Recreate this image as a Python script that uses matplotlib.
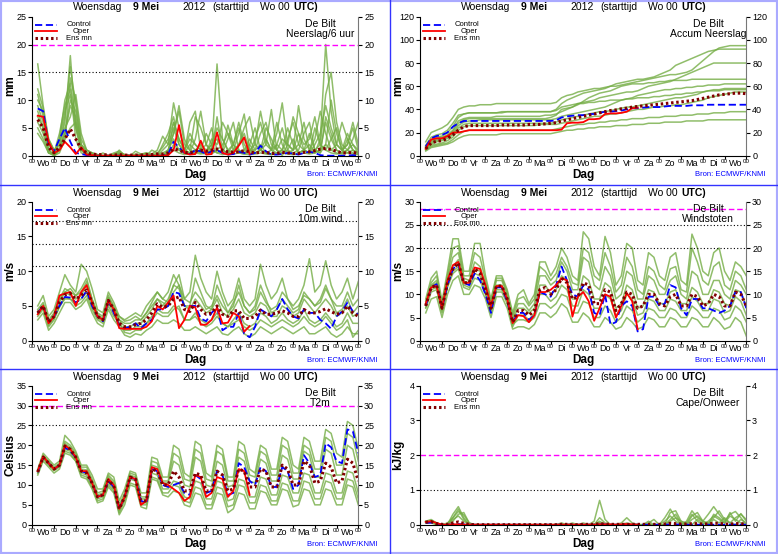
import matplotlib
matplotlib.use("Agg")
import matplotlib.pyplot as plt
from matplotlib.lines import Line2D
from matplotlib.patches import Rectangle
import numpy as np

plt.rcParams['font.family'] = ['Liberation Sans', 'DejaVu Sans']

W, H = 778, 554
hours = np.arange(6, 361, 6)          # 6-hourly steps, +6h .. +360h
day_names = ['Wo', 'Do', 'Vr', 'Za', 'Zo', 'Ma', 'Di', 'Wo', 'Do', 'Vr', 'Za', 'Zo', 'Ma', 'Di', 'Wo']

# ---------------- Neerslag / 6 uur (mm) ----------------
rr_control = [8.5, 8.0, 2.0, 0.8, 3.0, 5.0, 2.5, 0.5, 0.3, 0.1,
              0, 0, 0, 0, 0, 0, 0, 0, 0, 0,
              0, 0, 0, 0, 0.3, 2.5, 1.5, 0.5, 0.3, 1.0,
              0.8, 0.3, 0.8, 1.0, 0.5, 0.2, 0.3, 0.7, 0.5, 0.2,
              0.5, 1.8, 0.8, 0.2, 0.2, 0.3, 0.5, 0.4, 0.2, 0.5,
              0.7, 0.5, 0.1, 0, 0, 0, 0, 0, 0.1, 0]
rr_oper = [7.2, 7.0, 2.5, 0.5, 1.0, 2.5, 1.5, 0.3, 1.5, 0.2,
           0.1, 0, 0, 0, 0, 0, 0, 0, 0, 0,
           0, 0, 0, 0, 0.1, 1.0, 5.5, 0.5, 0.2, 0.3,
           2.7, 0.2, 0.3, 4.2, 0.5, 0.2, 0.5, 1.8, 3.3, 0.3]
rr_mean = [6.5, 5.0, 1.5, 0.5, 1.5, 3.0, 4.8, 3.0, 1.2, 0.5,
           0.3, 0.2, 0.2, 0.1, 0.1, 0.2, 0.1, 0.1, 0.1, 0.1,
           0.2, 0.2, 0.3, 0.3, 0.5, 1.2, 1.0, 0.6, 0.5, 0.8,
           1.0, 0.8, 1.0, 1.2, 1.0, 0.7, 0.6, 0.7, 0.9, 0.7,
           0.5, 0.6, 0.6, 0.4, 0.4, 0.6, 0.5, 0.4, 0.4, 0.6,
           0.7, 0.9, 1.2, 1.3, 1.1, 0.8, 0.5, 0.5, 0.6, 0.4]
rr_members = [
    [16.5, 9, 3, 1, 2, 6, 18, 5, 1, 0.3, 0, 0, 0, 0, 0, 1, 0, 0, 0, 0,
     0, 0, 0, 1, 2, 9.5, 5, 1, 0.5, 1, 2, 1, 0.5, 7, 1, 0.5, 1, 4, 7.5, 1,
     0.5, 1, 2, 8.3, 1, 0.5, 1, 3, 0.5, 1, 2, 0.5, 3, 20, 8, 2, 1, 2, 5, 1],
    [11, 7, 2, 0.5, 4, 9, 12, 3, 0.5, 0.2, 0, 0, 0.5, 0, 0, 0.3, 0, 0, 0.3, 0.1,
     0, 1, 0.5, 0, 1, 4, 9, 3, 1, 7, 5, 2, 1, 16.5, 3, 1, 2, 6, 2, 0.5,
     3, 6, 2, 1, 4, 9.5, 2, 1, 2, 6, 1, 3, 8, 4, 1, 2, 6, 3, 1, 0.5],
    [9, 6, 1, 0, 1, 4, 10, 8, 2, 0.5, 0.2, 0, 0, 0, 0.2, 0.5, 0, 0, 0, 0,
     0, 0, 0, 2, 4, 7, 2, 0.5, 6, 8, 1, 0.5, 3, 2, 6, 4, 1, 2, 5, 7,
     2, 1, 5, 3, 1, 0, 2, 7, 4, 1, 0.5, 5, 2, 11, 15, 6, 2, 1, 3, 6],
    [8, 5, 1, 0, 0.5, 3, 14, 10, 3, 1, 0.5, 0.2, 0, 0, 0, 0.3, 0, 0.1, 0, 0.3,
     0.3, 0.2, 0.3, 0.5, 1, 3, 1, 0.5, 2, 1, 0.5, 1, 2, 3, 1, 0.5, 2, 1, 0.5, 1,
     1, 2, 0.5, 1, 6, 2, 0.5, 1, 9, 3, 1, 0.5, 1, 6, 3, 1, 0.5, 1, 2, 0.5],
    [6, 4, 0.5, 0, 1, 5, 7, 11, 4, 1, 0.5, 0, 0, 0, 0, 0.5, 0.2, 0, 0, 0,
     0, 0, 0, 0, 0.5, 6, 3, 1, 0.5, 3, 8, 2, 0.5, 1, 0.5, 3, 6, 1, 0.5, 2,
     5, 1, 0.5, 0.3, 2, 5, 1, 0.5, 1, 4, 6, 1, 0.5, 2, 10, 4, 1, 0.5, 1, 0.5],
    [5, 3, 0.5, 0.2, 1, 3, 5, 6, 2, 0.5, 0.2, 0, 0, 0, 0, 0.2, 0, 0, 0, 0.2,
     0.5, 0, 0, 0, 0.3, 1, 0.5, 0.2, 0.5, 1, 0.5, 0.3, 1, 0.5, 0.2, 0.5, 1, 0.5, 0.3, 0.5,
     0.5, 1, 0.5, 0.2, 0.5, 1, 0.5, 0.3, 0.5, 1, 0.5, 1, 2, 1, 0.5, 0.3, 0.5, 1, 0.5, 0.3],
    [10, 8, 3, 1, 2, 7, 16, 9, 2, 1, 0.5, 0.2, 0, 0, 0.3, 0.5, 0, 0, 0.8, 0.3,
     0.5, 0.3, 1, 3.5, 2, 5, 2, 1, 3, 2, 1, 2, 5, 1, 2, 4, 2, 5, 1, 3,
     1, 4, 6, 2, 1, 3, 2, 1, 4, 2, 3, 7, 2, 1, 3, 5, 1, 2, 6, 2],
    [7, 5, 1, 0.3, 3, 8, 11, 5, 1, 0.2, 0, 0, 0, 0, 0, 0, 0, 0, 0, 0,
     0, 0, 0, 0, 0, 2, 1, 0.5, 0.3, 0.5, 0.3, 0.5, 0.3, 1, 0.5, 0.2, 0.3, 0.5, 0.3, 0.2,
     0.3, 0.5, 0.3, 0.2, 0.3, 0.5, 0.3, 0.2, 0.3, 0.5, 0.3, 0.5, 1, 2, 1, 0.5, 0.3, 0.5, 0.3, 0.2],
    [4, 2.5, 0.5, 0.2, 1.5, 4, 9, 7, 1.5, 0.3, 0, 0, 0, 0, 0, 0, 0, 0, 0, 0,
     0, 0, 0, 0, 1, 4, 8, 2, 1, 0.5, 1, 4, 2, 0.5, 1, 5.5, 2, 0.5, 1, 2,
     0.5, 1, 3, 1, 0.5, 1, 5, 2, 0.5, 1, 4, 1, 0.5, 7, 4, 1, 0.5, 3, 1, 0.5],
    [12, 8.5, 2.5, 0.5, 3, 10, 13, 6, 1, 0.5, 0.2, 0, 0, 0, 0.5, 0.8, 0.2, 0, 0, 0,
     0, 0, 0.5, 1.5, 3, 6, 3, 1, 4, 2, 1, 0.5, 2, 5, 3, 1, 0.5, 2, 4, 1,
     2, 8, 3, 1, 2, 1, 3, 6, 2, 1, 0.5, 2, 4, 9, 5, 2, 1, 4, 2, 1],
]

# ---------------- Accum Neerslag (mm) ----------------
acc_control = [8, 15, 17, 18, 20, 25, 28, 30, 30, 30, 30, 30, 30, 30, 30, 30, 30, 30, 30, 30,
               30, 30, 30, 30, 30.5, 33, 34, 34.5, 35, 35, 36, 36, 37, 38, 38, 38.5, 39, 40, 41, 41,
               41.5, 42, 42, 42, 42.5, 43, 43, 43, 43, 43.5, 43.5, 43.5, 44, 44, 44, 44, 44, 44, 44, 44]
acc_oper = [6, 14, 15, 15, 17, 20, 20, 21, 22, 22, 22, 22, 22, 22, 22, 22, 22, 22, 22, 22,
            22, 22, 22, 22, 22, 22.5, 28, 28.5, 28.5, 29, 31.5, 31.5, 32, 36, 36.5, 36.5, 37, 38, 41, 41.5]
acc_mean = [6, 11, 12.5, 13, 15, 18, 22, 25, 26, 26, 26, 26, 26, 26, 26.5, 26.5, 26.5, 26.5, 26.5, 27,
            27, 27, 27.5, 28, 28.5, 30, 31, 32, 33, 34, 35, 36, 37, 38, 39, 39.5, 40.5, 41, 42, 42.5,
            43, 43.5, 44, 44.5, 45, 45.5, 46, 46.5, 47, 47.5, 48.5, 49.5, 50.5, 51.5, 52.5, 53, 53.5, 54, 54, 53.5]
acc_members = [
    [12, 20, 22, 24, 27, 33, 40, 42, 43, 43, 44, 44, 44, 45, 45, 45, 45, 45, 45, 45,
     45, 45, 45, 45, 46, 50, 52, 53, 55, 56, 57, 58, 58, 59, 60, 60, 61, 62, 63, 64,
     65, 66, 67, 68, 69, 70, 70, 71, 72, 74, 78, 82, 86, 90, 93, 94, 95, 95, 95, 95],
    [9, 16, 18, 19, 22, 28, 35, 36, 37, 37, 37, 37, 37, 37, 37, 38, 38, 38, 38, 38,
     38, 38, 38, 38, 40, 45, 48, 50, 52, 54, 55, 56, 57, 58, 60, 62, 63, 64, 65, 66,
     66, 67, 68, 70, 72, 74, 78, 80, 82, 84, 86, 88, 90, 91, 92, 92, 92, 92, 92, 92],
    [8, 13, 15, 16, 18, 22, 30, 32, 33, 33, 33, 33, 33, 34, 34, 34, 34, 34, 34, 34,
     34, 34, 35, 35, 36, 38, 40, 42, 44, 47, 50, 52, 54, 55, 56, 58, 60, 61, 62, 62,
     62, 63, 63, 64, 64, 65, 65, 65, 65, 66, 66, 66, 66, 66, 66, 66, 66, 66, 66, 66],
    [6, 11, 13, 14, 16, 19, 26, 29, 30, 30, 31, 31, 31, 31, 31, 31, 31, 31, 31, 31,
     31, 31, 31, 31, 32, 34, 35, 36, 37, 38, 39, 40, 41, 42, 44, 46, 48, 49, 50, 52,
     53, 54, 55, 56, 57, 57, 58, 58, 59, 59, 60, 60, 61, 61, 61, 62, 62, 62, 62, 62],
    [5, 9, 10, 11, 13, 16, 22, 25, 26, 26, 26, 26, 26, 26, 26, 26, 26, 26, 26, 26,
     26, 27, 27, 27, 27, 28, 29, 30, 31, 32, 33, 34, 34, 35, 36, 36, 37, 38, 39, 40,
     40, 41, 42, 42, 43, 43, 44, 44, 45, 46, 47, 48, 50, 51, 52, 53, 54, 55, 55, 55],
    [5, 8, 9, 10, 11, 14, 18, 21, 22, 22, 22, 22, 22, 22, 22, 22, 22, 22, 22, 22,
     22, 22, 22, 22, 23, 24, 25, 26, 27, 27, 28, 28, 29, 29, 30, 30, 31, 31, 32, 32,
     32, 33, 33, 33, 34, 34, 34, 35, 35, 35, 36, 36, 36, 37, 37, 37, 38, 38, 38, 38],
    [4, 7, 8, 9, 10, 12, 15, 17, 18, 18, 18, 18, 18, 18, 19, 19, 19, 19, 19, 19,
     19, 19, 19, 19, 20, 21, 22, 22, 23, 23, 24, 24, 25, 25, 25, 26, 26, 26, 27, 27,
     27, 28, 28, 28, 29, 29, 29, 29, 30, 30, 30, 30, 31, 31, 31, 31, 31, 31, 31, 31],
    [7, 12, 14, 15, 17, 21, 28, 31, 32, 32, 32, 32, 32, 32, 32, 32, 32, 32, 32, 32,
     32, 32, 32, 33, 35, 40, 41, 42, 45, 46, 47, 48, 50, 51, 52, 53, 54, 55, 55, 56,
     58, 60, 61, 62, 63, 64, 66, 68, 70, 72, 74, 76, 78, 80, 80, 80, 80, 80, 80, 80],
    [6, 10, 12, 13, 15, 18, 24, 27, 28, 28, 28, 28, 28, 28, 28, 28, 28, 28, 28, 28,
     28, 28, 28, 28, 29, 31, 32, 33, 34, 35, 36, 37, 38, 38, 39, 40, 41, 42, 42, 43,
     44, 45, 46, 47, 48, 49, 50, 50, 51, 52, 53, 55, 56, 57, 57, 58, 58, 58, 58, 58],
    [8, 14, 16, 17, 20, 25, 33, 36, 37, 37, 37, 37, 37, 37, 38, 38, 38, 38, 38, 38,
     38, 38, 38, 38, 39, 42, 43, 44, 45, 45, 46, 46, 47, 47, 48, 48, 48, 49, 49, 50,
     50, 50, 51, 51, 52, 52, 53, 53, 54, 54, 55, 55, 56, 56, 56, 57, 57, 57, 57, 57],
]

# ---------------- 10m wind (m/s) ----------------
ff_control = [4.0, 5.0, 2.7, 3.5, 5.0, 6.3, 6.2, 5.5, 6.0, 7.2, 5.0, 3.5, 2.8, 5.8, 4.0, 2.2, 1.8, 2.0, 2.5, 1.8,
              2.5, 3.0, 4.5, 4.5, 5.0, 7.0, 6.8, 5.0, 5.0, 5.0, 3.2, 2.8, 4.0, 4.8, 1.5, 2.0, 2.0, 4.0, 1.0, 0.5,
              2.0, 4.5, 4.0, 3.5, 4.5, 6.0, 4.5, 3.5, 3.2, 4.5, 4.0, 4.0, 3.0, 2.5, 1.7, 3.5, 4.2, 5.5, 4.2, 3.8]
ff_oper = [3.8, 5.0, 2.5, 3.5, 6.5, 6.8, 7.0, 5.0, 7.0, 8.0, 5.5, 3.5, 3.0, 5.8, 4.5, 1.8, 1.7, 1.7, 1.7, 1.7,
           2.0, 2.8, 5.0, 4.5, 5.5, 6.5, 1.8, 3.0, 5.0, 4.8, 2.3, 2.3, 3.0, 4.8, 2.5, 2.6, 4.0, 3.5, 1.3, 2.1]
ff_mean = [4.0, 5.0, 2.7, 3.5, 5.5, 6.6, 6.8, 6.0, 6.5, 7.3, 5.5, 3.5, 3.0, 5.8, 4.5, 2.5, 2.0, 2.0, 2.3, 2.5,
           3.0, 4.0, 5.3, 4.8, 5.0, 6.0, 6.3, 4.5, 4.2, 5.5, 4.5, 3.8, 4.0, 5.0, 3.8, 3.5, 4.3, 4.3, 3.2, 3.2,
           3.5, 4.4, 3.8, 3.8, 4.0, 4.3, 4.0, 3.5, 3.5, 4.5, 4.0, 4.0, 4.2, 4.6, 4.2, 3.8, 4.0, 5.0, 4.0, 3.5]
ff_members = [
    [5, 6.5, 3.5, 4.5, 7, 9.5, 8, 7, 11, 10, 7.5, 4.5, 4, 7, 5.5, 3.5, 3, 3.5, 4, 3.5,
     5, 6, 7, 6, 7, 9.5, 8, 6, 7, 12.3, 9, 7, 6, 10, 7, 5, 6, 9, 6, 5,
     6, 11, 8, 6, 7, 9, 6, 5, 6, 8, 11.8, 7, 8, 11.5, 8, 6, 7, 9, 6, 8.5],
    [3, 4, 1.5, 2.5, 4, 5.5, 5.5, 4.5, 5, 6, 4, 2.5, 2, 4.5, 3, 2, 0.8, 0.5, 1, 0.8,
     1.5, 2, 3, 2.5, 2.5, 3, 2.5, 1.5, 1.5, 2, 1.5, 1, 1.5, 2, 1, 0.8, 1.5, 2, 1, 0.5,
     1, 2, 1.5, 1, 1.5, 2, 1.5, 1, 1.5, 2, 1, 1, 1.5, 2, 1, 0.5, 1, 2, 1, 1],
    [4.5, 5.5, 3, 4, 6, 7.5, 7, 6.5, 7, 8.5, 6, 4, 3.5, 6.5, 5, 3, 2.5, 2.5, 3, 3,
     4, 5, 6, 5, 6, 8, 7.5, 5, 5, 9, 7, 5, 4.5, 8, 6, 4, 5, 8, 5, 4,
     5, 8, 6, 4, 4.5, 6, 5, 4, 4.5, 7, 6, 5, 6, 8, 6, 4, 4.5, 6, 4, 5],
    [3.5, 4.5, 2, 3, 5, 6, 6, 5, 5.5, 6.5, 4.5, 3, 2.5, 5, 3.5, 2.5, 1.5, 1.5, 2, 2,
     2.5, 3.5, 4.5, 4, 4, 5, 4.5, 3, 3, 4, 3, 2.5, 3, 4, 2.5, 2, 3, 4, 2.5, 2,
     2.5, 4, 3.5, 2.5, 3, 4, 3, 2.5, 3, 4.5, 3, 2.5, 3, 4, 3, 2, 2.5, 4, 2.5, 2.5],
    [4, 5, 2.5, 3.5, 5.5, 7, 6.5, 6, 6.5, 8, 5.5, 3.5, 3, 6, 4.5, 3, 2, 2, 2.5, 2.5,
     3.5, 4.5, 6, 5.5, 5, 7, 8, 5, 4.5, 6, 5, 4, 4.5, 6, 4, 3.5, 4.5, 6, 4, 3.5,
     4, 5.5, 5, 3.5, 3.5, 5, 4.5, 3.5, 4, 6, 5, 4, 5, 6, 5, 3.5, 4, 5, 3.5, 4],
    [3.8, 4.8, 2.2, 3.2, 4.8, 6.2, 6, 5.5, 6, 7, 5, 3.2, 2.8, 5.5, 4, 2.5, 1.2, 1, 1.5, 1.5,
     2.5, 3, 4, 3.5, 3.5, 4.5, 5, 3, 3, 3.5, 2.5, 2, 2.5, 3.5, 2.5, 2, 2.5, 3, 2, 1.5,
     2, 3, 2.5, 2, 2.5, 3, 2.5, 2, 2.5, 3.5, 2.5, 2, 2.5, 3.5, 2.5, 1.5, 2, 3, 0.5, 1.5],
    [4.2, 5.2, 2.8, 3.8, 5.8, 7, 7.5, 6.5, 7.5, 9, 6, 3.8, 3.2, 6.2, 4.8, 3.5, 2.8, 3, 3.5, 3,
     4, 5.5, 7, 6, 5.5, 8, 9.5, 6, 5.5, 7, 6, 4.5, 5, 6.5, 5, 4, 5.5, 7, 5, 4,
     4.5, 7, 5.5, 4.5, 5, 7, 6, 4.5, 5, 6.5, 6, 5, 5.5, 7.5, 6, 5, 5, 7, 5, 6],
]

# ---------------- Windstoten (m/s) ----------------
fx_control = [7.5, 11.5, 12.2, 7.0, 12.0, 15.5, 16.5, 12.5, 12.0, 14.5, 13.0, 10.0, 6.0, 11.5, 11.5, 8.5, 4.0, 6.0, 6.0, 4.5,
              5.5, 10.5, 10.0, 9.5, 12.0, 16.0, 13.0, 10.0, 9.5, 12.0, 11.0, 6.0, 5.5, 10.0, 3.5, 4.0, 7.5, 8.5, 7.5, 2.0,
              2.5, 9.5, 9.5, 7.5, 8.0, 12.0, 11.5, 7.0, 5.5, 9.0, 9.0, 7.0, 7.0, 6.5, 6.0, 6.5, 7.5, 10.5, 10.5, 7.0]
fx_oper = [8.0, 11.5, 11.8, 7.0, 13.0, 16.3, 17.0, 12.5, 12.5, 15.8, 15.5, 12.0, 7.5, 11.8, 11.8, 9.0, 3.8, 5.5, 5.3, 4.0,
           5.5, 10.5, 10.5, 11.0, 12.0, 13.5, 13.0, 5.2, 9.5, 10.5, 8.5, 4.3, 7.0, 10.0, 9.5, 5.0, 7.5, 10.3, 8.5, 2.5]
fx_mean = [7.5, 11.5, 12.0, 7.0, 12.5, 15.5, 16.8, 12.5, 12.5, 15.5, 14.5, 11.0, 7.0, 11.8, 11.8, 9.0, 4.0, 6.5, 6.5, 5.5,
           6.5, 11.0, 11.5, 10.0, 11.0, 13.5, 12.5, 9.0, 9.5, 12.5, 12.0, 8.0, 8.0, 11.0, 10.5, 6.5, 8.0, 10.5, 10.0, 7.0,
           7.5, 10.0, 10.0, 8.0, 7.5, 9.5, 10.0, 7.5, 7.5, 10.0, 9.5, 7.5, 8.0, 10.0, 9.5, 7.5, 7.5, 10.5, 10.0, 7.5]
fx_members = [
    [9, 13.5, 15, 8.5, 15, 22, 22, 15, 15, 21, 21, 14, 9, 14, 14, 11, 6, 10, 11, 8,
     10, 17, 17, 14, 16, 20, 18, 14, 13, 23.5, 22, 16, 14, 22.5, 19, 12, 14, 21, 20, 13,
     12, 19, 18, 14, 13, 18, 19, 13, 12, 23, 20, 15, 14, 19, 20, 15, 13, 17, 16, 14],
    [6, 9, 9.5, 5, 10, 13, 14, 10, 10, 12, 11.5, 9, 5, 9.5, 9.5, 7, 2.5, 3, 3, 2.5,
     3.5, 6, 6, 5, 6, 8, 7, 4, 4, 6, 5, 3, 3, 5, 4, 2.5, 3, 5, 4, 2.5,
     3, 5, 4.5, 3, 3, 5, 4.5, 3, 3, 5, 4.5, 3, 3, 5, 4, 2.5, 3, 5, 4, 1],
    [8, 12, 13, 7.5, 13.5, 18, 19, 13.5, 13, 17, 16, 12, 8, 13, 13, 10, 5, 8, 8, 6.5,
     8, 14, 14, 12, 13, 17, 15, 11, 11, 18, 17, 12, 11, 16, 14, 9, 10, 15, 14, 9,
     9, 14, 13, 10, 10, 13, 14, 10, 9, 15, 14, 10, 10, 13, 13, 10, 9, 13, 12, 10],
    [7, 10.5, 11, 6, 11.5, 14.5, 15.5, 11.5, 11, 13.5, 13, 10, 6, 10.5, 10.5, 8, 3.5, 4.5, 4.5, 4,
     5, 8, 8, 7, 8, 10, 9.5, 6, 6, 8.5, 8, 5, 5, 7.5, 6.5, 4, 5, 7.5, 6.5, 4,
     5, 7, 6.5, 5, 5, 7, 6.5, 5, 5, 7.5, 6.5, 5, 5, 7, 6.5, 4.5, 5, 7.5, 6.5, 4],
    [7.8, 11.8, 12.5, 7.2, 12.8, 16, 17.5, 12.8, 12.5, 15.5, 15, 11.5, 7.2, 12, 12, 9.5, 4.5, 7, 7, 6,
     7, 12, 12, 10, 11, 14, 13, 9, 9, 14, 13, 9, 9, 12.5, 11.5, 7, 8, 12, 11, 7,
     7.5, 11, 10.5, 8, 8, 10.5, 11, 8, 8, 11.5, 10.5, 8, 8, 11, 10.5, 8, 7.5, 11, 10.5, 7.5],
    [8.5, 12.5, 14, 8, 14, 20, 20.5, 14, 14, 19, 18, 13, 8.5, 13.5, 13.5, 10.5, 5.5, 9, 9.5, 7.5,
     9, 16, 15, 13, 14.5, 18, 16, 12.5, 12, 20, 19, 14, 13, 19, 16, 10.5, 12, 18, 16, 11,
     10, 16, 15, 12, 11, 15.5, 16, 11, 10.5, 20, 17, 13, 12, 16, 17, 12, 11, 15, 14, 11],
    [7.2, 11, 11.5, 6.5, 12, 15, 16, 12, 11.5, 14.5, 14, 10.5, 6.5, 11, 11, 8.5, 3, 5.5, 5.5, 4.5,
     6, 10, 10, 8.5, 9.5, 12, 11, 7.5, 7.5, 11, 10, 7, 7, 10, 9, 5.5, 6.5, 10, 9, 5.5,
     6, 9, 8.5, 6.5, 6.5, 9, 8.5, 6.5, 6.5, 9.5, 8.5, 6.5, 6.5, 9, 8.5, 6, 6.5, 9.5, 8.5, 5.5],
]

# ---------------- T2m (Celsius) ----------------
tt_control = [13.2, 17.0, 15.5, 14.0, 15.0, 19.5, 18.5, 17.0, 13.5, 13.0, 10.5, 7.0, 7.5, 11.0, 9.5, 4.0, 7.0, 11.8, 11.5, 6.0,
              5.5, 14.0, 13.5, 10.0, 9.5, 10.0, 10.5, 8.0, 7.5, 12.5, 11.5, 8.0, 8.5, 13.5, 12.5, 7.5, 8.0, 15.5, 14.5, 11.0,
              10.0, 14.5, 13.5, 9.5, 9.5, 14.5, 13.5, 9.0, 10.0, 17.5, 15.5, 12.0, 12.5, 20.5, 19.5, 16.0, 15.5, 24.0, 23.5, 18.0]
tt_oper = [13.5, 17.2, 15.5, 14.0, 15.0, 20.0, 19.0, 17.0, 13.5, 13.5, 10.5, 7.0, 7.5, 11.5, 10.0, 4.0, 7.0, 12.0, 11.5, 5.0,
           6.0, 14.5, 14.0, 10.5, 10.0, 9.0, 8.0, 6.0, 7.0, 12.5, 12.0, 7.0, 8.0, 12.0, 11.5, 7.0, 8.5, 14.0, 13.5, 7.5]
tt_mean = [13.3, 17.0, 15.5, 14.0, 15.0, 19.8, 19.0, 17.0, 13.5, 13.0, 10.5, 7.0, 7.5, 11.2, 9.8, 4.0, 7.0, 12.0, 11.5, 6.0,
           6.0, 14.0, 13.5, 10.0, 10.0, 13.5, 12.0, 8.5, 8.5, 13.0, 12.5, 8.5, 8.5, 13.5, 12.5, 8.5, 9.0, 14.0, 13.5, 9.5,
           9.5, 14.0, 13.5, 9.5, 9.5, 15.0, 14.0, 10.0, 10.0, 16.0, 15.0, 10.5, 11.0, 15.5, 14.5, 10.5, 11.0, 16.5, 15.5, 11.0]
tt_members = [
    [14, 18, 16.5, 15, 16, 22.5, 21, 18.5, 15, 15, 12.5, 9, 9, 13, 12, 6, 9, 13.5, 13, 8,
     8, 17, 16.5, 12, 12, 20, 19, 13, 12, 21, 20, 13, 12, 20, 19, 12, 12, 21, 20, 14,
     13, 20, 19, 14, 14, 22, 21, 15, 14, 22, 21, 16, 16, 24, 23, 18, 17, 26, 25, 19],
    [12.5, 16, 14.5, 13, 14, 18, 17.5, 16, 12, 11.5, 9, 5.5, 6, 9.5, 8, 2.5, 5, 10, 9.5, 4.5,
     4, 11.5, 11, 7.5, 7, 8.5, 8, 5, 4.5, 8, 7.5, 4, 4, 8, 7.5, 3, 4, 8, 7.5, 4,
     4, 8.5, 8, 5, 5, 9, 8.5, 4.5, 5, 9, 8.5, 5, 5, 9, 8.5, 5, 5, 10, 9.5, 5],
    [13.3, 17.3, 15.8, 14.2, 15.2, 20.5, 19.5, 17.5, 14, 13.8, 11, 7.5, 8, 12, 10.5, 4.5, 7.5, 12.5, 12, 6.5,
     6.5, 15, 14.5, 10.5, 10.5, 16, 15, 10, 9.5, 17, 16, 10, 9.5, 16, 15, 9.5, 10, 17, 16, 11,
     10.5, 16.5, 15.5, 11, 11, 17.5, 16.5, 11.5, 11.5, 18.5, 17.5, 12, 12, 19, 18, 12.5, 12.5, 20, 19, 13],
    [13, 16.8, 15.2, 13.8, 14.7, 19, 18.5, 16.5, 13, 12.5, 10, 6.5, 7, 10.5, 9, 3.5, 6.5, 11.5, 11, 5.5,
     5.5, 13, 12.5, 9, 9, 11, 10.5, 7, 6.5, 11, 10.5, 6.5, 6.5, 11, 10.5, 6, 6.5, 11.5, 11, 7,
     7, 12, 11.5, 7.5, 7.5, 12.5, 12, 8, 8, 13, 12.5, 8, 8, 13, 12.5, 8, 8, 13.5, 13, 8],
    [13.6, 17.5, 16, 14.5, 15.5, 21, 20, 18, 14.5, 14.5, 11.5, 8, 8.5, 12.5, 11, 5, 8, 13, 12.5, 7,
     7, 16, 15.5, 11, 11, 18, 17, 11.5, 11, 19, 18, 11.5, 11, 18.5, 17.5, 11, 11, 19, 18, 12.5,
     12, 18.5, 17.5, 12.5, 12.5, 20, 19, 13, 13, 20, 19, 14, 14, 22, 21, 15, 15, 23, 22, 16],
    [13.1, 16.6, 15, 13.6, 14.5, 18.5, 18, 16, 12.5, 12, 9.5, 6, 6.5, 10, 8.5, 3, 6, 10.5, 10, 5,
     5, 12, 11.5, 8, 8, 10, 9.5, 6, 5.5, 9.5, 9, 5, 5, 9.5, 9, 4.5, 5, 10, 9.5, 5.5,
     5.5, 10, 9.5, 6, 6, 10.5, 10, 6, 6, 11, 10.5, 6.5, 6.5, 11, 10.5, 6.5, 6.5, 11.5, 11, 6.5],
]

# ---------------- Cape / Onweer (kJ/kg) ----------------
cape_control = [0.05, 0.06, 0.03, 0, 0, 0.01, 0.02, 0.01, 0, 0, 0, 0, 0, 0, 0, 0, 0, 0, 0, 0,
                0, 0, 0, 0, 0, 0, 0, 0, 0, 0, 0, 0, 0.01, 0.01, 0, 0, 0, 0, 0, 0,
                0, 0, 0, 0, 0, 0.01, 0.01, 0, 0, 0, 0, 0, 0, 0, 0, 0, 0, 0, 0, 0]
cape_oper = [0.08, 0.1, 0.05, 0, 0, 0.01, 0.01, 0, 0, 0, 0, 0, 0, 0, 0, 0, 0, 0, 0, 0,
             0, 0, 0, 0, 0, 0, 0, 0, 0, 0, 0, 0, 0.01, 0.01, 0.01, 0, 0.01, 0.02, 0.01, 0]
cape_mean = [0.07, 0.09, 0.03, 0.01, 0.01, 0.05, 0.08, 0.04, 0.01, 0, 0, 0, 0, 0, 0, 0, 0, 0, 0, 0,
             0, 0, 0, 0, 0, 0.01, 0.01, 0, 0, 0.01, 0.01, 0.01, 0.03, 0.02, 0.01, 0.01, 0.01, 0.01, 0.01, 0.01,
             0.01, 0.01, 0.01, 0.01, 0.02, 0.04, 0.03, 0.02, 0.02, 0.03, 0.03, 0.02, 0.02, 0.04, 0.04, 0.02, 0.02, 0.03, 0.03, 0.02]
cape_members = [
    [0.1, 0.15, 0.05, 0, 0, 0.3, 0.52, 0.2, 0, 0, 0, 0, 0, 0, 0, 0, 0, 0, 0, 0,
     0, 0, 0, 0, 0, 0, 0, 0, 0, 0, 0, 0.1, 0.7, 0.15, 0, 0, 0, 0, 0, 0,
     0, 0, 0, 0, 0.2, 0.45, 0.2, 0, 0.1, 0.4, 0.2, 0.1, 0.3, 0.52, 0.3, 0.1, 0.3, 0.38, 0.2, 0],
    [0.05, 0.1, 0.05, 0, 0.05, 0.2, 0.45, 0.15, 0, 0, 0, 0, 0, 0, 0, 0, 0, 0, 0, 0,
     0, 0, 0, 0, 0, 0, 0, 0.05, 0, 0, 0, 0, 0.2, 0.05, 0, 0, 0.05, 0.2, 0.05, 0,
     0, 0.05, 0.15, 0, 0, 0.35, 0.4, 0.1, 0, 0.25, 0.35, 0.1, 0, 0.3, 0.2, 0.05, 0.35, 0.1, 0.32, 0.1],
    [0.1, 0.1, 0, 0, 0, 0.1, 0.3, 0.35, 0.05, 0, 0, 0, 0, 0, 0, 0, 0, 0, 0, 0,
     0, 0, 0, 0, 0, 0.05, 0, 0, 0, 0.05, 0, 0, 0.05, 0, 0, 0, 0, 0, 0, 0,
     0, 0, 0, 0, 0.1, 0.25, 0.1, 0, 0, 0.15, 0.25, 0.1, 0.05, 0.2, 0.4, 0.15, 0.05, 0.2, 0.3, 0.15],
    [0.05, 0.05, 0, 0, 0, 0.15, 0.25, 0.1, 0, 0, 0, 0, 0, 0, 0, 0, 0, 0, 0, 0,
     0, 0, 0, 0, 0, 0, 0, 0, 0, 0, 0, 0, 0.1, 0, 0, 0, 0, 0, 0, 0,
     0, 0, 0, 0, 0, 0.15, 0.3, 0.05, 0, 0, 0.15, 0.05, 0, 0.15, 0.05, 0.2, 0.05, 0, 0.15, 0.05],
    [0.08, 0.12, 0.03, 0, 0, 0.2, 0.38, 0.28, 0.05, 0, 0, 0, 0, 0, 0, 0, 0, 0, 0, 0,
     0, 0, 0, 0, 0, 0, 0, 0, 0, 0, 0, 0, 0.05, 0, 0, 0, 0, 0.05, 0, 0,
     0, 0.1, 0, 0, 0, 0.1, 0.2, 0.1, 0.05, 0.3, 0.1, 0, 0.1, 0.25, 0.15, 0.05, 0.25, 0.15, 0.05, 0],
]

# warning levels per panel
rr_levels, rr_warn = [15], [20]
acc_levels, acc_warn = [], []
ff_levels, ff_warn = [10.8, 13.9, 17.2], []
fx_levels, fx_warn = [20, 25], [28.5]
tt_levels, tt_warn = [25], [30]
cape_levels, cape_warn = [1], [2]

panels = [
    (0, 0, rr_members, rr_control, rr_oper, rr_mean, 25, 5, 'mm', 'Neerslag/6 uur', rr_levels, rr_warn),
    (388, 0, acc_members, acc_control, acc_oper, acc_mean, 120, 20, 'mm', 'Accum Neerslag', acc_levels, acc_warn),
    (0, 185, ff_members, ff_control, ff_oper, ff_mean, 20, 5, 'm/s', '10m wind', ff_levels, ff_warn),
    (388, 185, fx_members, fx_control, fx_oper, fx_mean, 30, 5, 'm/s', 'Windstoten', fx_levels, fx_warn),
    (0, 369, tt_members, tt_control, tt_oper, tt_mean, 35, 5, 'Celsius', 'T2m', tt_levels, tt_warn),
    (388, 369, cape_members, cape_control, cape_oper, cape_mean, 4, 1, 'kJ/kg', 'Cape/Onweer', cape_levels, cape_warn),
]

GREEN = '#74ad45'
fig = plt.figure(figsize=(W / 100, H / 100), dpi=100)
t = hours / 24.0


def fpos(cx, ry, x, y):
    return (cx + x) / W, 1 - (ry + y) / H


for cx, ry, members, control, oper, mean, ymax, step, ylabel, name, levels, warn in panels:
    ax = fig.add_axes([(cx + 32.3) / W, 1 - (ry + 155.7) / H, 326 / W, 139 / H])
    for m in members:
        ax.plot(t, m, color=GREEN, lw=1.1, alpha=0.8)
    for lv in levels:
        ax.axhline(lv, color='black', lw=0.8, dashes=(1, 2))
    for lv in warn:
        ax.axhline(lv, color='#ff00ff', lw=1.0, dashes=(4, 2))
    ax.plot(t, control, color='#0000ff', lw=1.3, dashes=(4, 2))
    ax.plot(t[:len(oper)], oper, color='#ff0000', lw=1.3)
    ax.plot(t, mean, color='#800000', lw=2.2, dashes=(0.8, 0.9))

    ax.set_xlim(0, 15)
    ax.set_ylim(0, ymax)
    ax.set_yticks(np.arange(0, ymax + step / 2, step))
    ax.set_xticks(range(16), ['00'] * 16)
    ax.set_xticks(np.arange(15) + 0.5, day_names, minor=True)
    ax.tick_params(axis='x', which='major', length=2, labelsize=4.5, pad=0.5)
    ax.tick_params(axis='x', which='minor', length=0, labelsize=6.5, pad=2.3)
    ax.tick_params(axis='y', left=True, right=True, labelleft=True, labelright=True,
                   direction='out', length=3, labelsize=6.5, pad=1.2)
    ax.spines['top'].set_visible(False)
    ax.spines['right'].set_color('#777777')

    # title
    ty = 7.5
    for x, s, w in [(73, 'Woensdag', 'normal'), (133, '9 Mei', 'bold'), (182, '2012', 'normal'),
                    (212, '(starttijd', 'normal'), (260, 'Wo 00', 'normal'), (293, 'UTC)', 'bold')]:
        fx_, fy_ = fpos(cx, ry, x, ty)
        fig.text(fx_, fy_, s, fontsize=7.5, fontweight=w, ha='left', va='center')

    # legend
    for y, col, kw, lab, lx in [(24.5, '#0000ff', dict(dashes=(4, 2), lw=1.3), 'Control', 67),
                                (31, '#ff0000', dict(lw=1.3), 'Oper', 73),
                                (38, '#800000', dict(dashes=(0.8, 0.9), lw=2.2), 'Ens mn', 66)]:
        x0, yy = fpos(cx, ry, 35, y)
        x1, _ = fpos(cx, ry, 57, y)
        fig.add_artist(Line2D([x0, x1], [yy, yy], color=col, transform=fig.transFigure, **kw))
        tx, ty2 = fpos(cx, ry, lx, y + 0.5)
        fig.text(tx, ty2, lab, fontsize=5.5, ha='left', va='center')

    # station / parameter
    tx, ty2 = fpos(cx, ry, 320, 24)
    fig.text(tx, ty2, 'De Bilt', fontsize=7.5, ha='center', va='center')
    tx, ty2 = fpos(cx, ry, 320, 34)
    fig.text(tx, ty2, name, fontsize=7.5, ha='center', va='center')

    # y label, x label and source
    tx, ty2 = fpos(cx, ry, 10, 86)
    fig.text(tx, ty2, ylabel, fontsize=8.5, fontweight='bold', rotation=90, ha='center', va='center')
    tx, ty2 = fpos(cx, ry, 195, 175)
    fig.text(tx, ty2, 'Dag', fontsize=8.5, fontweight='bold', ha='center', va='center')
    tx, ty2 = fpos(cx, ry, 342, 175)
    fig.text(tx, ty2, 'Bron: ECMWF/KNMI', fontsize=5.5, color='#0000ff', ha='center', va='center')

# frame and panel separators
fig.add_artist(Rectangle((0, 0), 1, 1, transform=fig.transFigure, fill=False, edgecolor='#aaaaff', lw=3))
fig.add_artist(Line2D([389.5 / W, 389.5 / W], [0, 1], color='#3333ff', lw=1, transform=fig.transFigure))
for yy in (184.5, 368.5):
    fig.add_artist(Line2D([0, 1], [1 - yy / H, 1 - yy / H], color='#3333ff', lw=1, transform=fig.transFigure))

fig.savefig('out.png', dpi=100)
